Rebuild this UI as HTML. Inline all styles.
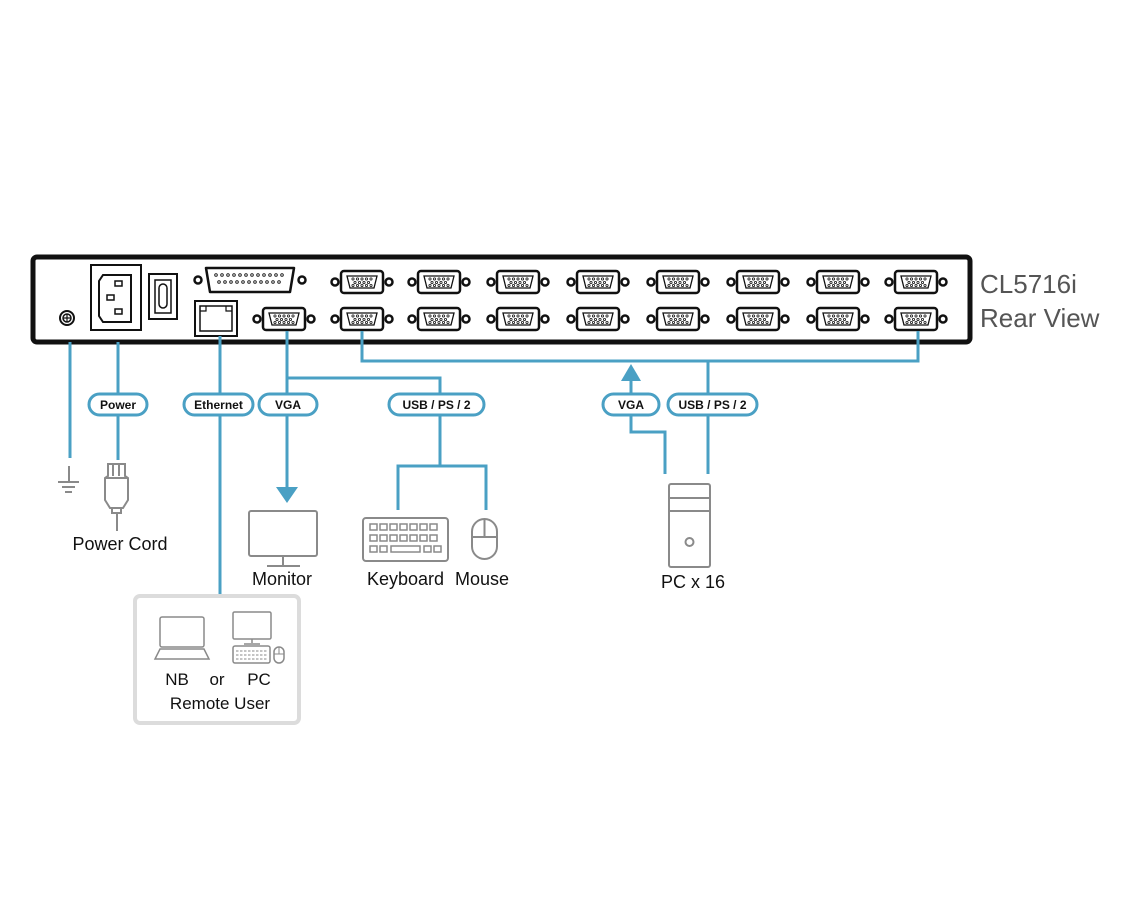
<!DOCTYPE html>
<html><head><meta charset="utf-8"><style>
html,body{margin:0;padding:0;background:#fff;}
svg{display:block;}
text{font-family:"Liberation Sans",Arial,sans-serif;}
</style></head><body>
<svg width="1140" height="917" viewBox="0 0 1140 917" xmlns="http://www.w3.org/2000/svg">
<defs>
<g id="vga">
  <circle cx="-27" cy="0" r="3.5" fill="none" stroke="#111" stroke-width="2.5"/>
  <circle cx="27" cy="0" r="3.5" fill="none" stroke="#111" stroke-width="2.5"/>
  <rect x="-21" y="-11" width="42" height="22" rx="3" fill="#fff" stroke="#111" stroke-width="2.5"/>
  <path d="M-15,-6 L15,-6 L12,6 L-12,6 Z" fill="none" stroke="#111" stroke-width="1.3"/>
  <g fill="none" stroke="#111" stroke-width="0.8">
    <circle cx="-9" cy="-3" r="1.1"/><circle cx="-4.5" cy="-3" r="1.1"/><circle cx="0" cy="-3" r="1.1"/><circle cx="4.5" cy="-3" r="1.1"/><circle cx="9" cy="-3" r="1.1"/>
    <circle cx="-7" cy="0.5" r="1.1"/><circle cx="-2.5" cy="0.5" r="1.1"/><circle cx="2" cy="0.5" r="1.1"/><circle cx="6.5" cy="0.5" r="1.1"/>
    <circle cx="-9" cy="3.5" r="1.1"/><circle cx="-4.5" cy="3.5" r="1.1"/><circle cx="0" cy="3.5" r="1.1"/><circle cx="4.5" cy="3.5" r="1.1"/><circle cx="9" cy="3.5" r="1.1"/>
  </g>
</g>
</defs>

<rect x="33" y="257" width="937" height="85" rx="4" fill="#fff" stroke="#111" stroke-width="5"/>

<circle cx="67" cy="318" r="7" fill="none" stroke="#111" stroke-width="2"/>
<circle cx="67" cy="318" r="4" fill="none" stroke="#111" stroke-width="1.5"/>
<path d="M63,318 H71 M67,314 V322" stroke="#111" stroke-width="1.2"/>

<rect x="91" y="265" width="50" height="65" fill="#fff" stroke="#111" stroke-width="2"/>
<path d="M103,275 H131 V322 H103 L99,316 V281 Z" fill="none" stroke="#111" stroke-width="2"/>
<rect x="115" y="281" width="7" height="5" fill="none" stroke="#111" stroke-width="1.5"/>
<rect x="107" y="295" width="7" height="5" fill="none" stroke="#111" stroke-width="1.5"/>
<rect x="115" y="309" width="7" height="5" fill="none" stroke="#111" stroke-width="1.5"/>
<rect x="149" y="274" width="28" height="45" fill="#fff" stroke="#111" stroke-width="2"/>
<rect x="155" y="280" width="16" height="33" fill="none" stroke="#111" stroke-width="1.5"/>
<rect x="159" y="284" width="8" height="24" rx="4" fill="none" stroke="#111" stroke-width="1.5"/>

<circle cx="198" cy="280" r="3.5" fill="none" stroke="#111" stroke-width="2.5"/>
<circle cx="302" cy="280" r="3.5" fill="none" stroke="#111" stroke-width="2.5"/>
<path d="M206,268 H294 L290,292 H210 Z" fill="#fff" stroke="#111" stroke-width="2.5" stroke-linejoin="round"/>
<g fill="none" stroke="#111" stroke-width="0.9">
<circle cx="216" cy="275" r="1.3"/><circle cx="222" cy="275" r="1.3"/><circle cx="228" cy="275" r="1.3"/><circle cx="234" cy="275" r="1.3"/><circle cx="240" cy="275" r="1.3"/><circle cx="246" cy="275" r="1.3"/><circle cx="252" cy="275" r="1.3"/><circle cx="258" cy="275" r="1.3"/><circle cx="264" cy="275" r="1.3"/><circle cx="270" cy="275" r="1.3"/><circle cx="276" cy="275" r="1.3"/><circle cx="282" cy="275" r="1.3"/>
<circle cx="219" cy="282" r="1.3"/><circle cx="225" cy="282" r="1.3"/><circle cx="231" cy="282" r="1.3"/><circle cx="237" cy="282" r="1.3"/><circle cx="243" cy="282" r="1.3"/><circle cx="249" cy="282" r="1.3"/><circle cx="255" cy="282" r="1.3"/><circle cx="261" cy="282" r="1.3"/><circle cx="267" cy="282" r="1.3"/><circle cx="273" cy="282" r="1.3"/><circle cx="279" cy="282" r="1.3"/>
</g>

<rect x="195" y="301" width="42" height="35" fill="#fff" stroke="#111" stroke-width="2"/>
<rect x="200" y="306" width="32" height="25" fill="none" stroke="#111" stroke-width="1.5"/>
<path d="M200,311 H206 V306 M232,311 H226 V306" fill="none" stroke="#111" stroke-width="1.2"/>

<use href="#vga" x="284" y="319"/>

<use href="#vga" x="362" y="282"/><use href="#vga" x="439" y="282"/><use href="#vga" x="518" y="282"/><use href="#vga" x="598" y="282"/>
<use href="#vga" x="678" y="282"/><use href="#vga" x="758" y="282"/><use href="#vga" x="838" y="282"/><use href="#vga" x="916" y="282"/>
<use href="#vga" x="362" y="319"/><use href="#vga" x="439" y="319"/><use href="#vga" x="518" y="319"/><use href="#vga" x="598" y="319"/>
<use href="#vga" x="678" y="319"/><use href="#vga" x="758" y="319"/><use href="#vga" x="838" y="319"/><use href="#vga" x="916" y="319"/>

<text x="980" y="293" font-size="26" fill="#555">CL5716i</text>
<text x="980" y="327" font-size="26" fill="#555">Rear View</text>

<g fill="none" stroke="#4aa0c4" stroke-width="3">
  <path d="M70,342 V458"/>
  <path d="M118,342 V460"/>
  <path d="M220,336 V594"/>
  <path d="M287,331 V490"/>
  <path d="M287,378 H440 V466 M398,510 V466 H486 V510"/>
  <path d="M362,331 V361 H918 V331"/>
  <path d="M631,378 V432 H665 V474"/>
  <path d="M708,361 V474"/>
</g>
<polygon points="276,487 298,487 287,503" fill="#4aa0c4"/>
<polygon points="631,364 621,381 641,381" fill="#4aa0c4"/>

<g fill="#fff" stroke="#4aa0c4" stroke-width="3">
  <rect x="89" y="394" width="58" height="21" rx="10.5"/>
  <rect x="184" y="394" width="69" height="21" rx="10.5"/>
  <rect x="259" y="394" width="58" height="21" rx="10.5"/>
  <rect x="389" y="394" width="95" height="21" rx="10.5"/>
  <rect x="603" y="394" width="56" height="21" rx="10.5"/>
  <rect x="668" y="394" width="89" height="21" rx="10.5"/>
</g>
<g font-size="12" font-weight="bold" fill="#111" text-anchor="middle">
  <text x="118" y="409">Power</text>
  <text x="218.5" y="409">Ethernet</text>
  <text x="288" y="409">VGA</text>
  <text x="436.5" y="409">USB / PS / 2</text>
  <text x="631" y="409">VGA</text>
  <text x="712.5" y="409">USB / PS / 2</text>
</g>

<g fill="none" stroke="#8a8a8a" stroke-width="2">
  <path d="M69,466 V482 M58,482 H79 M62,487 H75 M65,492 H72"/>
  <path d="M108,464 H125 V476 L128,478 V500 L123,508 H110 L105,500 V478 L108,476 Z"/>
  <path d="M113,464 V476 M119,464 V476 M105,478 H128"/>
  <rect x="112" y="508" width="9" height="5"/>
  <path d="M117,513 V531"/>
  <rect x="249" y="511" width="68" height="45" rx="2"/>
  <path d="M283,556 V565 M267,566 H300"/>
  <rect x="363" y="518" width="85" height="43" rx="3"/>
  <rect x="472" y="519" width="25" height="40" rx="12.5"/>
  <path d="M472,537 H497 M484.5,519 V537"/>
  <rect x="669" y="484" width="41" height="83" rx="2"/>
  <path d="M669,498 H710 M669,511 H710"/>
  <circle cx="689.5" cy="542" r="4"/>
</g>
<g fill="none" stroke="#8a8a8a" stroke-width="1.5">
  <rect x="370" y="524" width="7" height="6"/><rect x="380" y="524" width="7" height="6"/><rect x="390" y="524" width="7" height="6"/><rect x="400" y="524" width="7" height="6"/><rect x="410" y="524" width="7" height="6"/><rect x="420" y="524" width="7" height="6"/><rect x="430" y="524" width="7" height="6"/>
  <rect x="370" y="535" width="7" height="6"/><rect x="380" y="535" width="7" height="6"/><rect x="390" y="535" width="7" height="6"/><rect x="400" y="535" width="7" height="6"/><rect x="410" y="535" width="7" height="6"/><rect x="420" y="535" width="7" height="6"/><rect x="430" y="535" width="7" height="6"/>
  <rect x="370" y="546" width="7" height="6"/><rect x="380" y="546" width="7" height="6"/><rect x="391" y="546" width="29" height="6"/><rect x="424" y="546" width="7" height="6"/><rect x="434" y="546" width="7" height="6"/>
</g>

<g font-size="18" fill="#111">
  <text x="120" y="550" text-anchor="middle">Power Cord</text>
  <text x="282" y="585" text-anchor="middle">Monitor</text>
  <text x="367" y="585">Keyboard</text>
  <text x="455" y="585">Mouse</text>
  <text x="693" y="588" text-anchor="middle">PC x 16</text>
</g>

<rect x="135" y="596" width="164" height="127" rx="5" fill="#fff" stroke="#dcdcdc" stroke-width="4"/>
<g fill="none" stroke="#8a8a8a" stroke-width="1.5">
  <rect x="160" y="617" width="44" height="30" rx="2"/>
  <path d="M160,649 H204 L209,659 H155 Z"/>
  <rect x="233" y="612" width="38" height="27" rx="1.5"/>
  <path d="M252,639 V643 M244,644 H260"/>
  <rect x="233" y="646" width="37" height="17" rx="2"/>
  <path d="M236,651 H267 M236,655 H267 M236,659 H267" stroke-width="1" stroke-dasharray="2.5,1.5"/>
  <rect x="274" y="647" width="10" height="16" rx="5"/>
  <path d="M274,654 H284 M279,647 V654" stroke-width="1"/>
</g>
<g font-size="17" fill="#111" text-anchor="middle">
  <text x="177" y="685">NB</text>
  <text x="217" y="685">or</text>
  <text x="259" y="685">PC</text>
  <text x="220" y="709">Remote User</text>
</g>
</svg>
</body></html>
